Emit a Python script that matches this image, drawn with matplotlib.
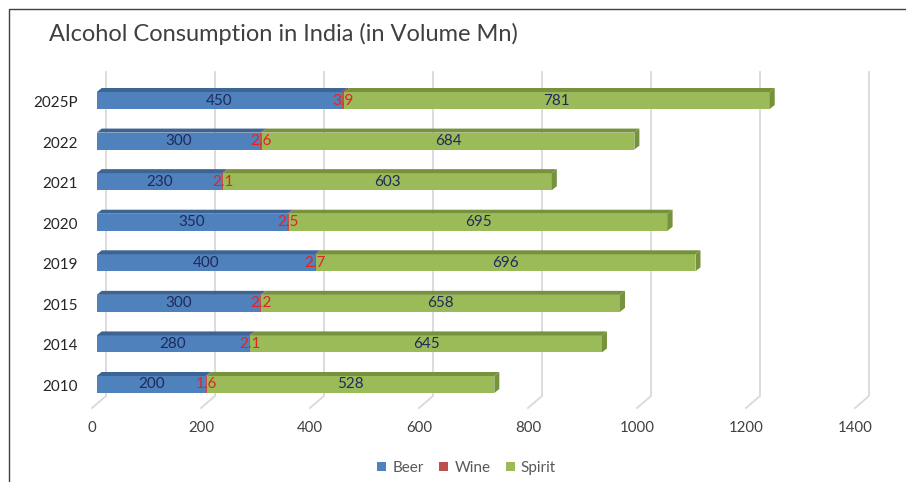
import matplotlib.pyplot as plt
import numpy as np
from matplotlib.lines import Line2D
from matplotlib.patches import Patch, Polygon

plt.rcParams["font.family"] = ["Lato", "DejaVu Sans"]

# data, bottom row first
years = ["2010", "2014", "2015", "2019", "2020", "2021", "2022", "2025P"]
beer = [200, 280, 300, 400, 350, 230, 300, 450]
wine = [1.6, 2.1, 2.2, 2.7, 2.5, 2.1, 2.6, 3.9]
spirit = [528, 645, 658, 696, 695, 603, 684, 781]
ticks = [0, 200, 400, 600, 800, 1000, 1200, 1400]

colors = {"Beer": "#4f81bd", "Wine": "#c0504d", "Spirit": "#9bbb59"}
tops = {"Beer": "#3c6596", "Wine": "#963c3a", "Spirit": "#76923c"}

W, H = 906, 482
fig = plt.figure(figsize=(W / 100, H / 100), dpi=100)

# axes mapped so that value 0 sits at x=96.7px and 1400 at ~860px
px_per_unit = 0.545
row_px = 40.57
x0_px, y_bot_px = 96.7, 384.5 + row_px / 2
ax = fig.add_axes([x0_px / W, 1 - y_bot_px / H,
                   1400 * px_per_unit / W, 8 * row_px / H])
ax.set_xlim(0, 1400)
ax.set_ylim(-0.5, 7.5)
ax.axis("off")

# 3d depth offsets (data units)
dx_bar, dy_bar = 5 / px_per_unit, 4 / row_px
dx_grid = 9.3 / px_per_unit
y_grid_top = (384.5 - 72) / row_px
y_grid_bot = (384.5 - 396) / row_px
dx_floor, dy_floor = -14 / px_per_unit, -12 / row_px

for v in ticks:
    xb = v + dx_grid
    ax.add_line(Line2D([xb, xb, xb + dx_floor], [y_grid_top, y_grid_bot, y_grid_bot + dy_floor],
                       color="#d9d9d9", lw=1.3, clip_on=False, zorder=0))
    ax.text(xb + dx_floor, (384.5 - 428) / row_px, str(v), ha="center", va="center",
            fontsize=10.8, color="#404040", clip_on=False)

bar_h = 17 / row_px
y = np.arange(len(years))
left = np.zeros(len(years))
series = [("Beer", beer), ("Wine", wine), ("Spirit", spirit)]
for name, vals in series:
    vals = np.array(vals, dtype=float)
    ax.barh(y, vals, left=left, height=bar_h, color=colors[name], zorder=2)
    for i in range(len(years)):
        l, r = left[i], left[i] + vals[i]
        t, b = y[i] + bar_h / 2, y[i] - bar_h / 2
        ax.add_patch(Polygon([(l, t), (l + dx_bar, t + dy_bar), (r + dx_bar, t + dy_bar), (r, t)],
                             closed=True, facecolor=tops[name], edgecolor="none", zorder=2))
        if name == "Spirit":
            ax.add_patch(Polygon([(r, b), (r + dx_bar, b + dy_bar), (r + dx_bar, t + dy_bar), (r, t)],
                                 closed=True, facecolor=tops[name], edgecolor="none", zorder=2))
        lab = f"{vals[i]:g}"
        col = "#e02424" if name == "Wine" else "#1f2a5c"
        ax.text((l + r) / 2, y[i], lab, ha="center", va="center", fontsize=11,
                color=col, zorder=3)
    left = left + vals

for i, yr in enumerate(years):
    ax.text((78 - x0_px) / px_per_unit, i - 0.06, yr, ha="right", va="center",
            fontsize=11, color="#262626", clip_on=False)

fig.text(49 / W, 1 - 34 / H, "Alcohol Consumption in India (in Volume Mn)",
         ha="left", va="center", fontsize=17, color="#404040")

handles = [Patch(facecolor=colors[n], edgecolor="none") for n, _ in series]
fig.legend(handles, [n for n, _ in series], loc="center", bbox_to_anchor=(0.515, 1 - 468 / H),
           ncol=3, frameon=False, fontsize=11, handlelength=0.6, handleheight=0.6,
           handletextpad=0.4, columnspacing=1.0, labelcolor="#595959")

# chart frame (left and top edges)
fig.add_artist(Line2D([9 / W, 9 / W, 1], [0, 1 - 9 / H, 1 - 9 / H],
                      transform=fig.transFigure, color="#404040", lw=1.0))

fig.savefig("out.png", dpi=100)
